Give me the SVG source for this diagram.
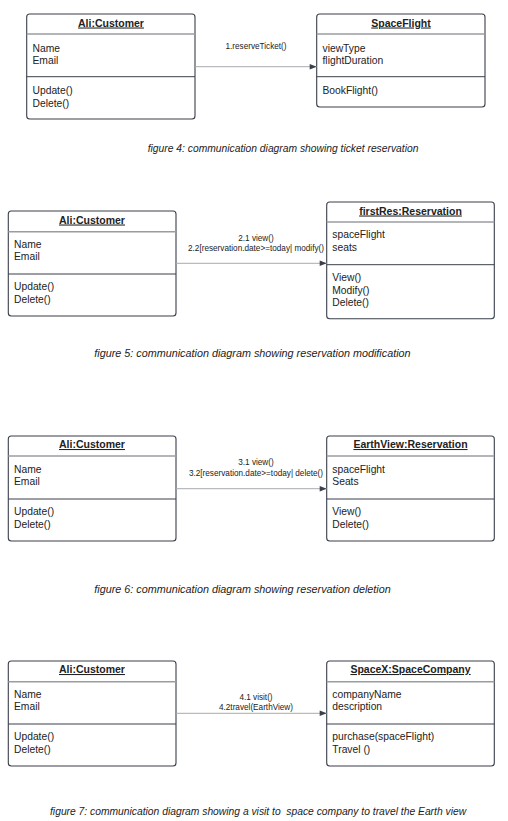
<svg xmlns="http://www.w3.org/2000/svg" width="508" height="821" viewBox="0 0 508 821">
<style>
.box{fill:#fff;stroke:#3a3f4a;stroke-width:1.1}
.hd{stroke:#9a9ca0;stroke-width:1.6}
.dv{stroke:#3a3f4a;stroke-width:1}
text{font-family:"Liberation Sans",Arial,sans-serif;fill:#222}
.t{font-size:10.5px;font-weight:bold;text-anchor:middle;text-decoration:underline}
.a{font-size:10.3px}
.m{font-size:8.2px;text-anchor:middle}
.c{font-size:10.3px;font-style:italic;white-space:pre}
.c2{font-size:10.8px}
.ln{stroke:#a8abb0;stroke-width:1;fill:none}
</style>
<defs>
<marker id="ah" viewBox="0 0 10 10" refX="10" refY="5" markerWidth="9" markerHeight="7" markerUnits="userSpaceOnUse" orient="auto">
<path d="M0,1 L10,5 L0,9 z" fill="#3a3f4a"/>
</marker>
</defs>

<g id="fig4-customer">
<rect class="box" x="26.7" y="14" width="168.3" height="105" rx="3"/>
<line class="hd" x1="26.7" y1="34" x2="195" y2="34"/>
<line class="dv" x1="26.7" y1="76.7" x2="195" y2="76.7"/>
<text class="t" x="111" y="26.5">Ali:Customer</text>
<text class="a" x="32.5" y="51.5">Name</text>
<text class="a" x="32.5" y="64">Email</text>
<text class="a" x="32.5" y="94">Update()</text>
<text class="a" x="32.5" y="106.5">Delete()</text>
</g>
<g id="fig4-spaceflight">
<rect class="box" x="316.7" y="14" width="168.3" height="93" rx="3"/>
<line class="hd" x1="316.7" y1="34" x2="485" y2="34"/>
<line class="dv" x1="316.7" y1="76.7" x2="485" y2="76.7"/>
<text class="t" x="401" y="26.5">SpaceFlight</text>
<text class="a" x="322.5" y="51.5">viewType</text>
<text class="a" x="322.5" y="64">flightDuration</text>
<text class="a" x="322.5" y="94">BookFlight()</text>
</g>
<text class="c" x="147.7" y="152">figure 4: communication diagram showing ticket reservation</text>

<g id="fig5-customer">
<rect class="box" x="8.3" y="211" width="167.7" height="105" rx="3"/>
<line class="hd" x1="8.3" y1="231.7" x2="176" y2="231.7"/>
<line class="dv" x1="8.3" y1="274" x2="176" y2="274"/>
<text class="t" x="92" y="223.5">Ali:Customer</text>
<text class="a" x="14" y="247.5">Name</text>
<text class="a" x="14" y="260">Email</text>
<text class="a" x="14" y="290">Update()</text>
<text class="a" x="14" y="302.5">Delete()</text>
</g>
<g id="fig5-reservation">
<rect class="box" x="326.7" y="202" width="167.6" height="116.7" rx="3"/>
<line class="hd" x1="326.7" y1="222" x2="494.3" y2="222"/>
<line class="dv" x1="326.7" y1="264.7" x2="494.3" y2="264.7"/>
<text class="t" x="410.5" y="214.5">firstRes:Reservation</text>
<text class="a" x="332.3" y="238">spaceFlight</text>
<text class="a" x="332.3" y="250.5">seats</text>
<text class="a" x="332.3" y="281">View()</text>
<text class="a" x="332.3" y="293.5">Modify()</text>
<text class="a" x="332.3" y="306">Delete()</text>
</g>
<text class="c c2" x="94.3" y="357">figure 5: communication diagram showing reservation modification</text>

<g id="fig6-customer">
<rect class="box" x="8.3" y="436" width="167.7" height="105" rx="3"/>
<line class="hd" x1="8.3" y1="456" x2="176" y2="456"/>
<line class="dv" x1="8.3" y1="499" x2="176" y2="499"/>
<text class="t" x="92" y="448">Ali:Customer</text>
<text class="a" x="14" y="472.5">Name</text>
<text class="a" x="14" y="485">Email</text>
<text class="a" x="14" y="515">Update()</text>
<text class="a" x="14" y="527.5">Delete()</text>
</g>
<g id="fig6-reservation">
<rect class="box" x="326.7" y="436" width="167.6" height="105" rx="3"/>
<line class="hd" x1="326.7" y1="456" x2="494.3" y2="456"/>
<line class="dv" x1="326.7" y1="499" x2="494.3" y2="499"/>
<text class="t" x="410.5" y="448">EarthView:Reservation</text>
<text class="a" x="332.3" y="472.5">spaceFlight</text>
<text class="a" x="332.3" y="485">Seats</text>
<text class="a" x="332.3" y="515">View()</text>
<text class="a" x="332.3" y="527.5">Delete()</text>
</g>
<text class="c c2" x="94.3" y="593">figure 6: communication diagram showing reservation deletion</text>

<g id="fig7-customer">
<rect class="box" x="8.3" y="661" width="167.7" height="105" rx="3"/>
<line class="hd" x1="8.3" y1="681.7" x2="176" y2="681.7"/>
<line class="dv" x1="8.3" y1="724" x2="176" y2="724"/>
<text class="t" x="92" y="673">Ali:Customer</text>
<text class="a" x="14" y="697.5">Name</text>
<text class="a" x="14" y="710">Email</text>
<text class="a" x="14" y="740">Update()</text>
<text class="a" x="14" y="752.5">Delete()</text>
</g>
<g id="fig7-spacecompany">
<rect class="box" x="326.7" y="661" width="167.6" height="105" rx="3"/>
<line class="hd" x1="326.7" y1="681.7" x2="494.3" y2="681.7"/>
<line class="dv" x1="326.7" y1="724" x2="494.3" y2="724"/>
<text class="t" x="410.5" y="673">SpaceX:SpaceCompany</text>
<text class="a" x="332.3" y="697.5">companyName</text>
<text class="a" x="332.3" y="710">description</text>
<text class="a" x="332.3" y="740">purchase(spaceFlight)</text>
<text class="a" x="332.3" y="752.5">Travel ()</text>
</g>
<text class="c" x="50" y="815">figure 7: communication diagram showing a visit to  space company to travel the Earth view</text>

<g id="connectors">
<line class="ln" x1="195" y1="66.7" x2="316.7" y2="66.7" marker-end="url(#ah)"/>
<text class="m" x="256" y="48.7">1.reserveTicket()</text>
<line class="ln" x1="176" y1="263.3" x2="326.7" y2="263.3" marker-end="url(#ah)"/>
<text class="m" x="256" y="240.7">2.1 view()</text>
<text class="m" x="256" y="250.7">2.2[reservation.date&gt;=today| modify()</text>
<line class="ln" x1="176" y1="488.7" x2="326.7" y2="488.7" marker-end="url(#ah)"/>
<text class="m" x="256" y="465">3.1 view()</text>
<text class="m" x="256" y="475.7">3.2[reservation.date&gt;=today| delete()</text>
<line class="ln" x1="176" y1="713.3" x2="326.7" y2="713.3" marker-end="url(#ah)"/>
<text class="m" x="256" y="700">4.1 visit()</text>
<text class="m" x="256" y="710">4.2travel(EarthView)</text>
</g>
</svg>
